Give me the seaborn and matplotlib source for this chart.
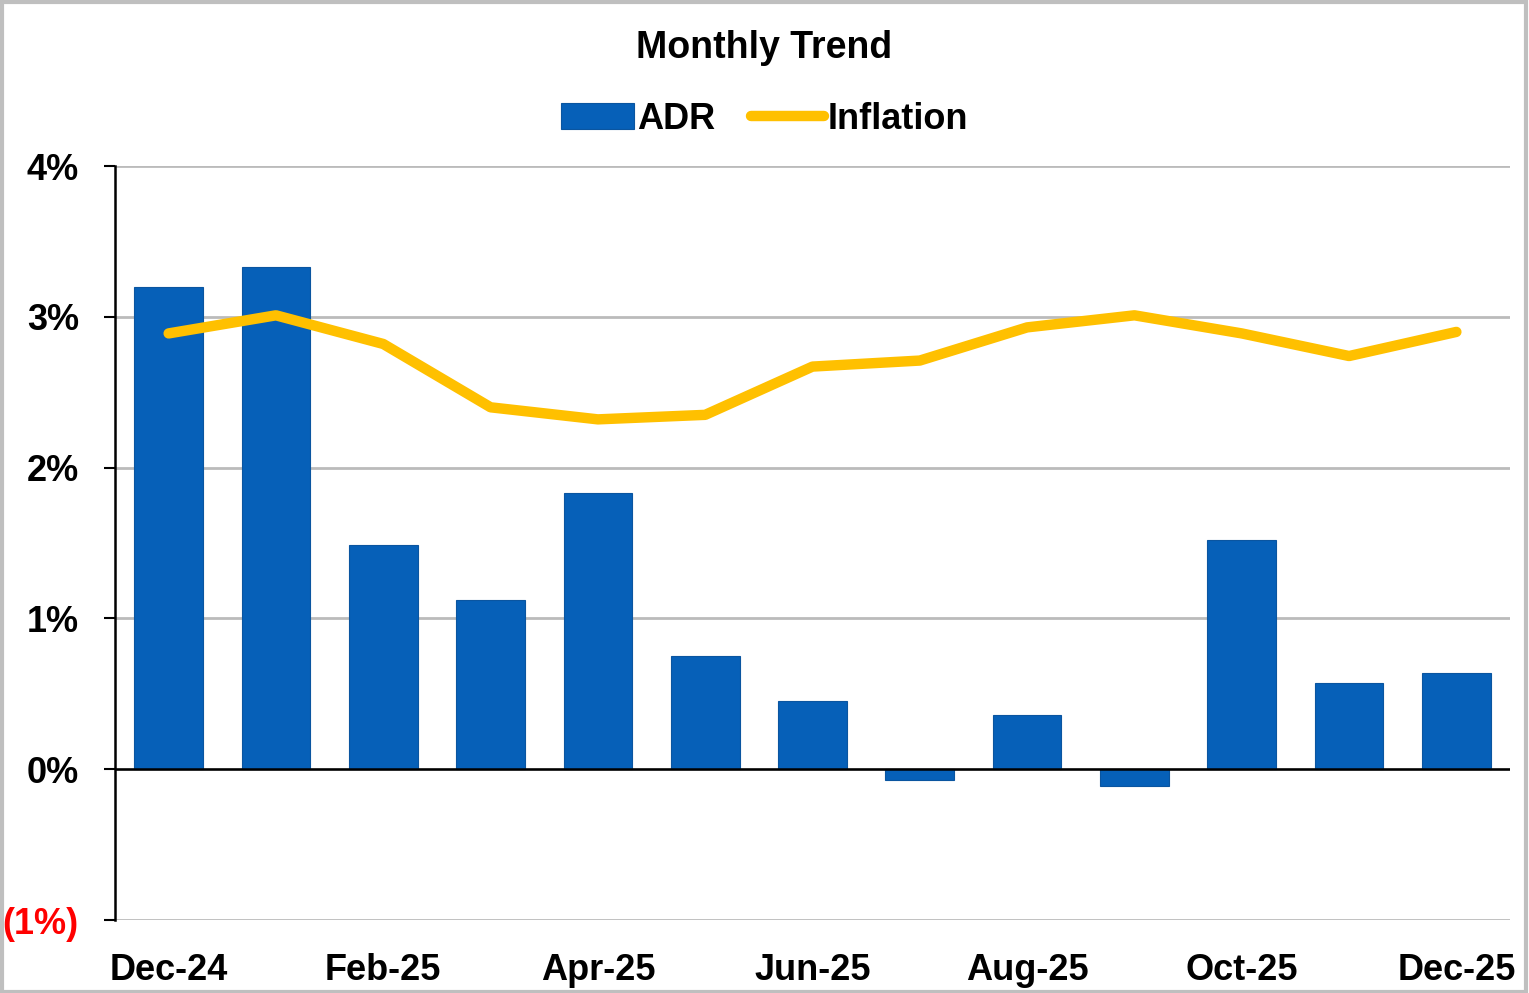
import matplotlib
matplotlib.use('Agg')
import matplotlib.pyplot as plt
import seaborn as sns
import pandas as pd
import numpy as np

# Data (percent)
months = ['Dec-24', 'Jan-25', 'Feb-25', 'Mar-25', 'Apr-25', 'May-25', 'Jun-25',
          'Jul-25', 'Aug-25', 'Sep-25', 'Oct-25', 'Nov-25', 'Dec-25']
adr = [3.20, 3.33, 1.49, 1.12, 1.83, 0.75, 0.45, -0.07, 0.36, -0.11, 1.52, 0.57, 0.64]
inflation = [2.89, 3.01, 2.82, 2.40, 2.32, 2.35, 2.67, 2.71, 2.93, 3.01, 2.89, 2.74, 2.90]
y_ticks = [-1, 0, 1, 2, 3, 4]
y_labels = ['(1%)', '0%', '1%', '2%', '3%', '4%']

df = pd.DataFrame({'month': months, 'ADR': adr, 'Inflation': inflation})
df['pos'] = np.arange(len(df))

sns.set_theme(style='white')
plt.rcParams['font.family'] = ['Liberation Sans', 'DejaVu Sans']
plt.rcParams['font.weight'] = 'bold'
plt.rcParams['text.color'] = 'black'
plt.rcParams['xtick.color'] = 'black'
plt.rcParams['ytick.color'] = 'black'

fig = plt.figure(figsize=(15.29, 9.93), dpi=100)
ax = fig.add_axes([0.0752, 0.0735, 0.9124, 0.7593])

bar_color = '#0660B8'
line_color = '#FFC000'

sns.barplot(data=df, x='pos', y='ADR', color=bar_color, width=0.64,
            edgecolor='#0A55A0', linewidth=0.8, saturation=1, ax=ax,
            native_scale=True, label='ADR', zorder=3)
sns.lineplot(data=df, x='pos', y='Inflation', color=line_color, linewidth=7.5,
             solid_capstyle='round', solid_joinstyle='round', ax=ax,
             label='Inflation', zorder=4)

# Axes limits and ticks
ax.set_xlim(-0.5, len(months) - 0.5)
ax.set_ylim(-1, 4)
ax.set_yticks(y_ticks)
ax.set_yticklabels(y_labels, fontsize=26, fontweight='bold')
ax.get_yticklabels()[0].set_color('#FF0000')
ax.set_xticks(df['pos'][::2])
ax.set_xticklabels(df['month'][::2], fontsize=26, fontweight='bold')
ax.tick_params(axis='y', which='major', direction='out', length=8, width=1.5,
               color='black', left=True, pad=18)
ax.tick_params(axis='x', length=0, pad=24)
ax.set_xlabel('')
ax.set_ylabel('')

# Gridlines and spines
ax.yaxis.grid(True, color='#BBBBBB', linewidth=2, zorder=0)
ax.set_axisbelow(True)
ax.axhline(0, color='black', linewidth=1.8, zorder=5)
for side in ['top', 'right', 'bottom']:
    ax.spines[side].set_visible(False)
ax.spines['left'].set_color('black')
ax.spines['left'].set_linewidth(1.8)
ax.spines['left'].set_zorder(6)

# Title and legend
fig.text(0.5, 0.952, 'Monthly Trend', ha='center', va='center',
         fontsize=27, fontweight='bold')
handles, labels = ax.get_legend_handles_labels()
order = [labels.index('ADR'), labels.index('Inflation')]
ax.legend([handles[i] for i in order], [labels[i] for i in order],
          loc='center', bbox_to_anchor=(0.5, 0.88), bbox_transform=fig.transFigure,
          ncol=2, frameon=False, fontsize=26, handlelength=2.0, handletextpad=0.1,
          columnspacing=1.0)

# Grey outer border
fig.patches.append(plt.Rectangle((0.001, 0.001), 0.997, 0.997, transform=fig.transFigure,
                                 fill=False, edgecolor='#BFBFBF', linewidth=3))

fig.savefig('out.png', dpi=100)
